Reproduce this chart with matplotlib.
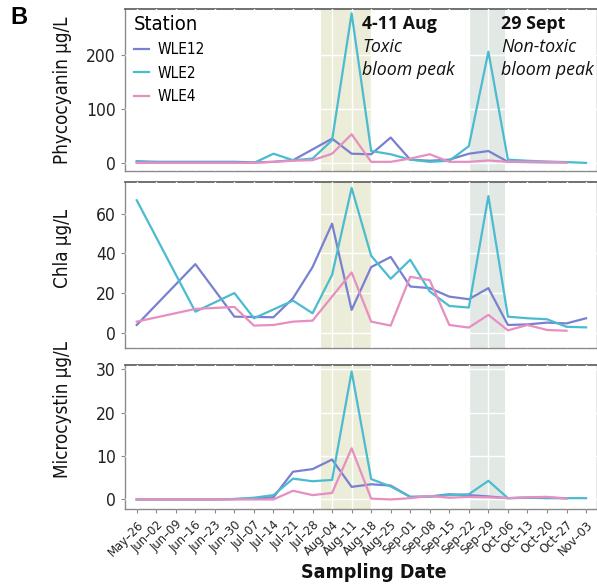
import numpy as np
import matplotlib
matplotlib.use('Agg')
import matplotlib.pyplot as plt

nan = np.nan

dates = ['May–26', 'Jun–02', 'Jun–09', 'Jun–16', 'Jun–23', 'Jun–30',
         'Jul–07', 'Jul–14', 'Jul–21', 'Jul–28', 'Aug–04', 'Aug–11',
         'Aug–18', 'Aug–25', 'Sep–01', 'Sep–08', 'Sep–15', 'Sep–22',
         'Sep–29', 'Oct–06', 'Oct–13', 'Oct–20', 'Oct–27', 'Nov–03']
stations = ['WLE12', 'WLE2', 'WLE4']

# phycocyanin (ug/L), weekly, nan = not sampled
phyco_wle12 = [3, 2, 2, 2, 2, 2, 1, 2, 5, nan, 45, 17, 16, 47, 6, 4, 6, 17, 22, 2, 1.5, 1, 1, nan]
phyco_wle2 = [2, 1, 1, 1, 1, 1, 0, 17, 5, 8, 42, 277, 22, 16, 6, 2, 4, 31, 206, 6, 4, 2.5, 1.5, 0]
phyco_wle4 = [0, 0, 0, 0, 0, 0, 0, 2, 4, 5, 17, 53, 2, 2, 8, 16, 2, 2, 4.5, 2, 2, 2, 0.5, nan]

# chlorophyll a (ug/L)
chla_wle12 = [3.9, nan, nan, 34.6, nan, 8.1, nan, 7.8, 17.4, 33.1, 55, 11.5, 33.1, 38.2, 23.3, 22.5, 18.2, 16.9, 22.5, 3.9, 4.2, 5.1, 4.7, 7.3]
chla_wle2 = [66.8, nan, nan, 10.6, nan, 20, 7.3, nan, 16.2, 9.8, 29.2, 73, 38.8, 27.2, 36.8, 20.8, 13.5, 12.7, 68.9, 8.1, 7.3, 6.8, 3.0, 2.7]
chla_wle4 = [5.6, nan, nan, 12, nan, 13, 3.6, 3.9, 5.6, 6.1, nan, 30.4, 5.6, 3.6, 28.2, 26.5, 3.9, 2.6, 9.0, 1.2, 3.9, 1.4, 1.0, nan]

# microcystin (ug/L)
mc_wle12 = [0, 0, 0, 0, 0, 0.1, 0.2, 0.5, 6.4, 7.0, 9.2, 2.9, 3.5, 3.2, 0.6, 0.7, 1.2, 1.0, 0.7, 0.3, 0.4, 0.3, 0.3, nan]
mc_wle2 = [0, 0, 0, 0, 0, 0.1, 0.4, 1.0, 4.8, 4.2, 4.5, 29.5, 4.7, 3.0, 0.6, 0.6, 1.0, 1.2, 4.3, 0.3, 0.4, 0.4, 0.3, 0.3]
mc_wle4 = [0, 0, 0, 0, 0, 0, 0, 0, 2.0, 1.0, 1.5, 11.8, 0.2, 0.0, 0.3, 0.8, 0.4, 0.6, 0.5, 0.3, 0.5, 0.6, 0.2, nan]

colors = ['#7a80d0', '#4bbbd0', '#e68fc0']
toxic_band = (9.43, 12.0)
nontoxic_band = (17.05, 18.86)

cond = dict(family='DejaVu Sans', fontstretch='condensed')

fig = plt.figure(figsize=(5.97, 5.86), dpi=100)
W, H = 597, 586


def px_axes(l, t, r, b):
    return fig.add_axes([l / W, 1 - b / H, (r - l) / W, (b - t) / H])


ax1 = px_axes(125, 9, 597, 171)
ax2 = px_axes(125, 182, 597, 348)
ax3 = px_axes(125, 365, 597, 509)

x = np.arange(len(dates))
panels = [
    (ax1, [phyco_wle12, phyco_wle2, phyco_wle4], (-15, 285), [0, 100, 200]),
    (ax2, [chla_wle12, chla_wle2, chla_wle4], (-7.7, 76), [0, 20, 40, 60]),
    (ax3, [mc_wle12, mc_wle2, mc_wle4], (-2.2, 31), [0, 10, 20, 30]),
]

for ax, series, ylim, yt in panels:
    ax.axvspan(*toxic_band, color='#ecedd8', lw=0, zorder=0)
    ax.axvspan(*nontoxic_band, color='#e2e9e5', lw=0, zorder=0)
    for vals, c, name in zip(series, colors, stations):
        v = np.array(vals, dtype=float)
        m = ~np.isnan(v)
        ax.plot(x[m], v[m], color=c, lw=1.6, label=name, zorder=3)
    ax.set_xlim(-0.6, 23.56)
    ax.set_ylim(*ylim)
    ax.set_yticks(yt)
    ax.set_xticks(x)
    ax.grid(True, color='white', lw=1.0, zorder=1)
    ax.set_axisbelow(False)
    for s in ax.spines.values():
        s.set_color('#8a8a8a')
        s.set_linewidth(1.0)
    ax.spines['top'].set_color('#666666')
    ax.spines['top'].set_linewidth(1.3)
    ax.tick_params(axis='both', colors='#8a8a8a', length=3, width=0.8,
                   labelcolor='#222222')
    for lab in ax.get_yticklabels():
        lab.set_fontsize(12.5)
        lab.set_fontstretch('condensed')

for ax in (ax1, ax2):
    ax.tick_params(axis='x', labelbottom=False, length=0)

ax3.set_xticklabels(dates, rotation=45, ha='right', rotation_mode='anchor',
                    fontsize=9.3, fontstretch='condensed')

# y labels
for ylab, yc in [('Phycocyanin µg/L', 90), ('Chla µg/L', 248), ('Microcystin µg/L', 409)]:
    fig.text(63 / W, 1 - yc / H, ylab, rotation=90, ha='center', va='center',
             fontsize=13.5, color='#111111', **cond)

fig.text(374 / W, 1 - 572 / H, 'Sampling Date', ha='center', va='center',
         fontsize=14, fontweight='bold', color='#111111', **cond)
fig.text(10 / W, 1 - 18 / H, 'B', ha='left', va='center', fontsize=17,
         fontweight='bold', family='Liberation Sans')

leg = ax1.legend(title='Station', loc='upper left', frameon=False,
                 handlelength=1.0, handletextpad=0.5, labelspacing=0.55,
                 borderaxespad=0.2, prop=dict(size=11, stretch='condensed'),
                 bbox_to_anchor=(0.0, 1.02))
leg.get_title().set_fontsize(14.5)
leg.get_title().set_fontstretch('condensed')
leg._legend_box.align = 'left'

ann = dict(family='Open Sans', fontsize=12.8, color='#111111', va='top', ha='left')
fig.text(362 / W, 1 - 15 / H, '4-11 Aug', fontweight='bold', **ann)
fig.text(362 / W, 1 - 38 / H, 'Toxic', style='italic', **ann)
fig.text(362 / W, 1 - 61 / H, 'bloom peak', style='italic', **ann)
fig.text(501 / W, 1 - 15 / H, '29 Sept', fontweight='bold', **ann)
fig.text(501 / W, 1 - 38 / H, 'Non-toxic', style='italic', **ann)
fig.text(501 / W, 1 - 61 / H, 'bloom peak', style='italic', **ann)

fig.savefig('out.png', dpi=100, facecolor='white')
